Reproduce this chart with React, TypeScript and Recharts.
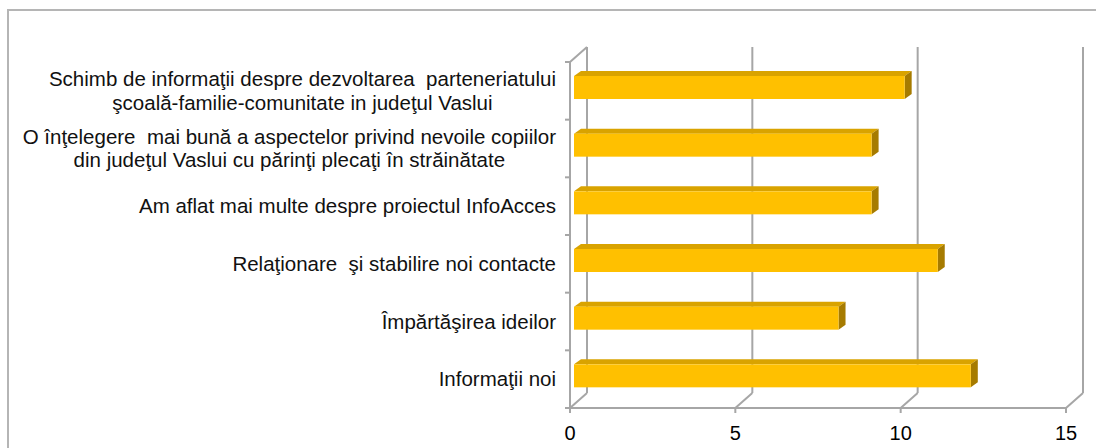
import { BarChart, Bar, XAxis, YAxis, CartesianGrid } from "recharts";

// categories, top to bottom (second line after \n)
const categories = [
  "Schimb de informaţii despre dezvoltarea  parteneriatului\nşcoală-familie-comunitate in judeţul Vaslui",
  "O înţelegere  mai bună a aspectelor privind nevoile copiilor\ndin judeţul Vaslui cu părinţi plecaţi în străinătate",
  "Am aflat mai multe despre proiectul InfoAcces",
  "Relaţionare  şi stabilire noi contacte",
  "Împărtăşirea ideilor",
  "Informaţii noi",
];
const values = [10, 9, 9, 11, 8, 12];
const xTicks = [0, 5, 10, 15];

const data = categories.map((name, i) => ({ name, value: values[i] }));

const FONT = '"Liberation Sans", Arial, sans-serif';
const LABEL_SIZE = 20.5;
const GRID = "#a6a6a6";
const WALL_DX = 17;
const WALL_DY = 15;

let ctx: CanvasRenderingContext2D | null = null;
const measure = (s: string) => {
  if (!ctx) ctx = document.createElement("canvas").getContext("2d");
  if (!ctx) return s.length * 10;
  ctx.font = `${LABEL_SIZE}px "Liberation Sans"`;
  return ctx.measureText(s).width;
};

// multi-line labels: lines centred on each other, block right-aligned to the axis
const CategoryTick = (props: any) => {
  const { x, y, payload } = props;
  const lines = String(payload.value).split("\n");
  const w = Math.max(...lines.map(measure));
  const cx = x - w / 2;
  const lh = 23.5;
  const start = y - ((lines.length - 1) * lh) / 2;
  return (
    <text
      x={cx}
      textAnchor="middle"
      fontFamily={FONT}
      fontSize={LABEL_SIZE}
      fill="#111"
      style={{ whiteSpace: "pre" }}
    >
      {lines.map((l, i) => (
        <tspan key={i} x={cx} y={start + i * lh} dy="0.35em">
          {l}
        </tspan>
      ))}
    </text>
  );
};

// back-wall gridline + floor diagonal; first one also gets the side wall
const renderGridLine = (p: any) => {
  const { x1, y1, y2, index } = p;
  const top = Math.min(y1, y2);
  const bottom = Math.max(y1, y2);
  const bx = x1 + WALL_DX;
  const n = categories.length;
  return (
    <g key={`grid-${index}`}>
      <line x1={bx} y1={top - WALL_DY} x2={bx} y2={bottom - WALL_DY} stroke={GRID} strokeWidth={2} />
      <line x1={x1} y1={bottom} x2={bx} y2={bottom - WALL_DY} stroke={GRID} strokeWidth={2} />
      {index === 0 && (
        <>
          <line x1={x1} y1={top} x2={bx} y2={top - WALL_DY} stroke={GRID} strokeWidth={2} />
          {Array.from({ length: n + 1 }, (_, i) => {
            const yy = top + (i * (bottom - top)) / n;
            return <line key={i} x1={x1 - 5} y1={yy} x2={x1} y2={yy} stroke={GRID} strokeWidth={2} />;
          })}
        </>
      )}
    </g>
  );
};

const Bar3D = (p: any) => {
  const { x, y, width, height } = p;
  if (!width || width <= 0) return null;
  const fx = x + 4;
  const fy = y - 3;
  const dx = 7;
  const dy = 5;
  return (
    <g>
      <polygon
        points={`${fx},${fy} ${fx + dx},${fy - dy} ${fx + width + dx},${fy - dy} ${fx + width},${fy}`}
        fill="#d9a300"
      />
      <polygon
        points={`${fx + width},${fy} ${fx + width + dx},${fy - dy} ${fx + width + dx},${fy - dy + height} ${fx + width},${fy + height}`}
        fill="#a67b00"
      />
      <rect x={fx} y={fy} width={width} height={height} fill="#ffc000" />
    </g>
  );
};

export default function App() {
  return (
    <div
      style={{
        position: "absolute",
        left: 0,
        top: 0,
        width: 1096,
        height: 448,
        overflow: "hidden",
        background: "#fff",
      }}
    >
      <div
        style={{
          position: "absolute",
          left: 7,
          top: 9,
          width: 1200,
          height: 600,
          border: "2px solid #b5b5b5",
        }}
      />
      <div style={{ position: "absolute", left: 0, top: 0 }}>
        <BarChart
          width={1096}
          height={448}
          data={data}
          layout="vertical"
          margin={{ top: 62, right: 30, bottom: 10, left: 0 }}
        >
          <CartesianGrid horizontal={false} vertical={renderGridLine} />
          <XAxis
            type="number"
            domain={[0, 15]}
            ticks={xTicks}
            interval={0}
            height={30}
            axisLine={{ stroke: GRID, strokeWidth: 2 }}
            tickLine={{ stroke: GRID, strokeWidth: 2 }}
            tickSize={5}
            tickMargin={13}
            tick={{ fill: "#000", fontSize: 20, fontFamily: FONT }}
          />
          <YAxis
            type="category"
            dataKey="name"
            width={570}
            axisLine={{ stroke: GRID, strokeWidth: 2 }}
            tickLine={false}
            tickSize={0}
            tickMargin={14}
            interval={0}
            tick={<CategoryTick />}
          />
          <Bar dataKey="value" barSize={23} shape={<Bar3D />} isAnimationActive={false} />
        </BarChart>
      </div>
    </div>
  );
}
